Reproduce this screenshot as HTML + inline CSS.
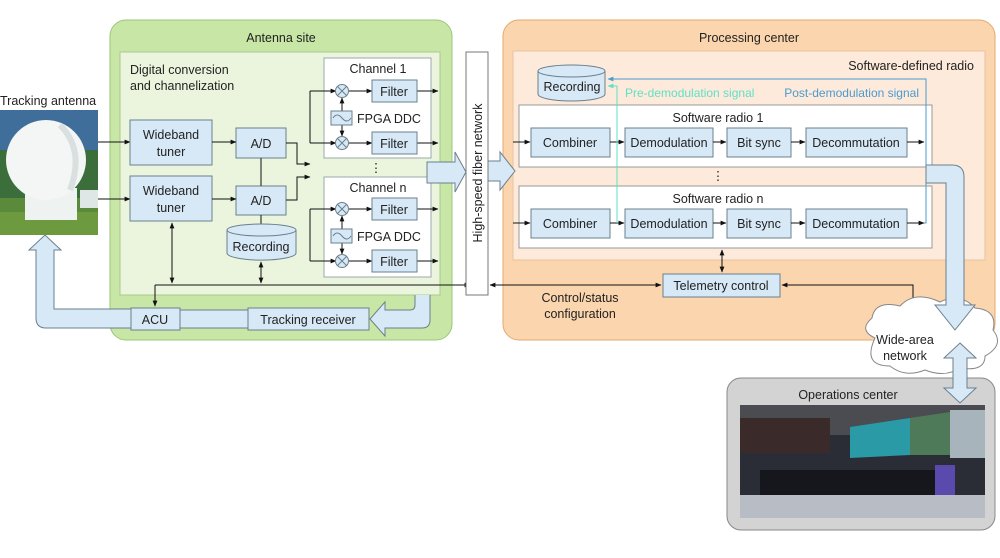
<!DOCTYPE html>
<html><head><meta charset="utf-8"><style>
body{margin:0;background:#fff}
svg text{font-family:"Liberation Sans",sans-serif;font-size:12.5px;fill:#222}
</style></head><body>
<svg width="1000" height="553" viewBox="0 0 1000 553" xmlns="http://www.w3.org/2000/svg">
<defs>
<marker id="a" viewBox="0 0 10 10" refX="9" refY="5" markerWidth="6" markerHeight="6" orient="auto-start-reverse"><path d="M0,1 L10,5 L0,9z" fill="#111"/></marker>
<marker id="ab" viewBox="0 0 10 10" refX="9" refY="5" markerWidth="6" markerHeight="6" orient="auto"><path d="M0,1 L10,5 L0,9z" fill="#4a9bd0"/></marker>
<marker id="ac" viewBox="0 0 10 10" refX="9" refY="5" markerWidth="6" markerHeight="6" orient="auto"><path d="M0,1 L10,5 L0,9z" fill="#5fe0c8"/></marker>
</defs>

<!-- Antenna site -->
<rect x="110" y="20" width="342" height="320" rx="16" fill="#c8e6a6" stroke="#9cc77b"/>
<text x="281" y="42" text-anchor="middle">Antenna site</text>
<rect x="120" y="52" width="320" height="243" fill="#ebf5de" stroke="#a9c98f"/>
<text x="130" y="74">Digital conversion</text>
<text x="130" y="90">and channelization</text>

<!-- tracking antenna image -->
<rect x="0" y="110" width="98" height="125" fill="#3f6e9a"/>
<rect x="0" y="150" width="98" height="50" fill="#3b6e3a"/>
<rect x="0" y="198" width="98" height="37" fill="#5a8a3a"/>
<rect x="0" y="212" width="98" height="23" fill="#6d9a3e"/>
<rect x="80" y="190" width="18" height="18" fill="#dfe6e6"/>
<rect x="25" y="188" width="52" height="32" fill="#eef2f0"/>
<circle cx="46" cy="160" r="40" fill="#f3f6f4"/>
<path d="M60,125 Q85,150 70,190" stroke="#c9d2d0" stroke-width="6" fill="none" opacity="0.6"/>
<text x="0" y="105" font-size="12.5">Tracking antenna</text>

<line x1="98" y1="142" x2="130" y2="142" stroke="#111" marker-end="url(#a)"/>
<line x1="98" y1="199" x2="130" y2="199" stroke="#111" marker-end="url(#a)"/>

<g fill="#d7e9f6" stroke="#6a7f8c">
<rect x="130" y="120" width="82" height="45"/>
<rect x="130" y="176" width="82" height="45"/>
<rect x="236" y="128" width="50" height="30"/>
<rect x="236" y="186" width="50" height="29"/>
</g>
<text x="171" y="139" text-anchor="middle">Wideband</text><text x="171" y="156" text-anchor="middle">tuner</text>
<text x="171" y="195" text-anchor="middle">Wideband</text><text x="171" y="212" text-anchor="middle">tuner</text>
<text x="261" y="148" text-anchor="middle">A/D</text>
<text x="261" y="205" text-anchor="middle">A/D</text>
<line x1="212" y1="142" x2="236" y2="142" stroke="#111" marker-end="url(#a)"/>
<line x1="212" y1="199" x2="236" y2="199" stroke="#111" marker-end="url(#a)"/>
<line x1="261" y1="158" x2="261" y2="186" stroke="#111"/>
<line x1="261" y1="215" x2="261" y2="232" stroke="#111" marker-end="url(#a)"/>
<path d="M227,230 L227,253 A34,7 0 0 0 296,253 L296,230" fill="#d7e9f6" stroke="#6a7f8c"/>
<ellipse cx="261.5" cy="230" rx="34.5" ry="6" fill="#d7e9f6" stroke="#6a7f8c"/>
<text x="261" y="251" text-anchor="middle">Recording</text>

<polyline points="286,143 297,143 297,164 310,164" fill="none" stroke="#111" marker-end="url(#a)"/>
<polyline points="286,200 297,200 297,177 310,177" fill="none" stroke="#111" marker-end="url(#a)"/>
<line x1="310" y1="91" x2="310" y2="143" stroke="#111"/>
<line x1="310" y1="209" x2="310" y2="261" stroke="#111"/>

<rect x="324" y="58" width="107" height="100" fill="#fff" stroke="#9aa"/>
<rect x="324" y="177" width="107" height="100" fill="#fff" stroke="#9aa"/>
<text x="378" y="73" text-anchor="middle">Channel 1</text>
<text x="378" y="192" text-anchor="middle">Channel n</text>
<text x="376" y="172" text-anchor="middle">⋮</text>
<g stroke="#111" fill="none">
<line x1="310" y1="91" x2="336" y2="91" marker-end="url(#a)"/>
<line x1="310" y1="143" x2="336" y2="143" marker-end="url(#a)"/>
<line x1="310" y1="209" x2="336" y2="209" marker-end="url(#a)"/>
<line x1="310" y1="261" x2="336" y2="261" marker-end="url(#a)"/>
<line x1="349" y1="91" x2="372" y2="91" marker-end="url(#a)"/>
<line x1="349" y1="143" x2="372" y2="143" marker-end="url(#a)"/>
<line x1="349" y1="209" x2="372" y2="209" marker-end="url(#a)"/>
<line x1="349" y1="261" x2="372" y2="261" marker-end="url(#a)"/>
<line x1="417" y1="91" x2="438" y2="91" marker-end="url(#a)"/>
<line x1="417" y1="143" x2="438" y2="143" marker-end="url(#a)"/>
<line x1="417" y1="209" x2="438" y2="209" marker-end="url(#a)"/>
<line x1="417" y1="261" x2="438" y2="261" marker-end="url(#a)"/>
<line x1="342" y1="111" x2="342" y2="98" marker-end="url(#a)"/>
<line x1="342" y1="125" x2="342" y2="136" marker-end="url(#a)"/>
<line x1="342" y1="229" x2="342" y2="216" marker-end="url(#a)"/>
<line x1="342" y1="243" x2="342" y2="254" marker-end="url(#a)"/>
</g>
<g fill="#d7e9f6" stroke="#6a7f8c">
<circle cx="342" cy="91" r="6.5"/><circle cx="342" cy="143" r="6.5"/><circle cx="342" cy="209" r="6.5"/><circle cx="342" cy="261" r="6.5"/>
<rect x="372" y="80" width="45" height="22"/><rect x="372" y="132" width="45" height="22"/>
<rect x="372" y="198" width="45" height="22"/><rect x="372" y="250" width="45" height="22"/>
<rect x="331" y="111" width="21" height="14"/><rect x="331" y="229" width="21" height="14"/>
</g>
<g stroke="#6a7f8c">
<path d="M337.5,86.5l9,9M346.5,86.5l-9,9M337.5,138.5l9,9M346.5,138.5l-9,9M337.5,204.5l9,9M346.5,204.5l-9,9M337.5,256.5l9,9M346.5,256.5l-9,9"/>
<path d="M333,118 q4,-6 9,0 t9,0 M333,236 q4,-6 9,0 t9,0" fill="none"/>
</g>
<text x="394" y="96" text-anchor="middle">Filter</text><text x="394" y="148" text-anchor="middle">Filter</text>
<text x="394" y="214" text-anchor="middle">Filter</text><text x="394" y="266" text-anchor="middle">Filter</text>
<text x="357" y="123">FPGA DDC</text><text x="357" y="241">FPGA DDC</text>

<line x1="155" y1="285" x2="470" y2="285" stroke="#111" marker-end="url(#a)"/>
<line x1="155" y1="285" x2="155" y2="306" stroke="#111" marker-end="url(#a)"/>
<line x1="172" y1="223" x2="172" y2="283" stroke="#111" marker-start="url(#a)" marker-end="url(#a)"/>
<line x1="261" y1="262" x2="261" y2="283" stroke="#111" marker-start="url(#a)" marker-end="url(#a)"/>

<path d="M131,309 L54,309 Q54,309 54,300 L54,250 L61,250 L45,235 L29,250 L36,250 L36,318 Q36,328 46,328 L131,328 Z" fill="#d7e9f6" stroke="#6a7f8c"/>
<rect x="180" y="310" width="68" height="18" fill="#d7e9f6"/>
<line x1="180" y1="310" x2="248" y2="310" stroke="#6a7f8c"/><line x1="180" y1="328" x2="248" y2="328" stroke="#6a7f8c"/>
<path d="M415,295 L415,305 Q415,310 410,310 L385,310 L385,302 L370,319 L385,336 L385,328 L422,328 Q430,328 430,320 L430,295" fill="#d7e9f6" stroke="#6a7f8c"/>
<rect x="131" y="308" width="49" height="22" fill="#d7e9f6" stroke="#6a7f8c"/>
<rect x="248" y="308" width="121" height="22" fill="#d7e9f6" stroke="#6a7f8c"/>
<text x="155" y="324" text-anchor="middle">ACU</text>
<text x="308" y="324" text-anchor="middle">Tracking receiver</text>

<!-- Processing center -->
<rect x="503" y="20" width="492" height="320" rx="16" fill="#fbd5ad" stroke="#e3a96e"/>
<text x="749" y="42" text-anchor="middle">Processing center</text>
<rect x="513" y="51" width="472" height="209" fill="#fdeada" stroke="#e8c3a0"/>
<text x="974" y="70" text-anchor="end">Software-defined radio</text>

<path d="M427,162 L455,162 L455,152 L466,172 L455,192 L455,183 L427,183Z" fill="#d7e9f6" stroke="#6a7f8c"/>
<path d="M488,161 L500,161 L500,152 L515,171 L500,190 L500,181 L488,181Z" fill="#d7e9f6" stroke="#6a7f8c"/>
<rect x="466" y="52" width="22" height="243" fill="#fff" stroke="#777"/>
<text transform="translate(482,173) rotate(-90)" text-anchor="middle">High-speed fiber network</text>

<path d="M538,71 L538,94 A33.5,7 0 0 0 605,94 L605,71" fill="#d7e9f6" stroke="#6a7f8c"/>
<ellipse cx="571.5" cy="71" rx="33.5" ry="6" fill="#d7e9f6" stroke="#6a7f8c"/>
<text x="572" y="91" text-anchor="middle">Recording</text>

<rect x="519" y="105" width="413" height="62" fill="#fff" stroke="#999"/>
<rect x="519" y="186" width="413" height="62" fill="#fff" stroke="#999"/>
<text x="718" y="122" text-anchor="middle">Software radio 1</text>
<text x="718" y="203" text-anchor="middle">Software radio n</text>
<text x="718" y="180" text-anchor="middle">⋮</text>
<g fill="#d7e9f6" stroke="#6a7f8c">
<rect x="531" y="128" width="79" height="29"/><rect x="625" y="128" width="88" height="29"/><rect x="727" y="128" width="64" height="29"/><rect x="806" y="128" width="101" height="29"/>
<rect x="531" y="209" width="79" height="29"/><rect x="625" y="209" width="88" height="29"/><rect x="727" y="209" width="64" height="29"/><rect x="806" y="209" width="101" height="29"/>
</g>
<g text-anchor="middle">
<text x="570" y="147">Combiner</text><text x="669" y="147">Demodulation</text><text x="759" y="147">Bit sync</text><text x="856" y="147">Decommutation</text>
<text x="570" y="228">Combiner</text><text x="669" y="228">Demodulation</text><text x="759" y="228">Bit sync</text><text x="856" y="228">Decommutation</text>
</g>
<g stroke="#111">
<line x1="513" y1="142" x2="530" y2="142" marker-end="url(#a)"/><line x1="610" y1="142" x2="624" y2="142" marker-end="url(#a)"/><line x1="713" y1="142" x2="726" y2="142" marker-end="url(#a)"/><line x1="791" y1="142" x2="805" y2="142" marker-end="url(#a)"/><line x1="907" y1="142" x2="924" y2="142" marker-end="url(#a)"/>
<line x1="513" y1="223" x2="530" y2="223" marker-end="url(#a)"/><line x1="610" y1="223" x2="624" y2="223" marker-end="url(#a)"/><line x1="713" y1="223" x2="726" y2="223" marker-end="url(#a)"/><line x1="791" y1="223" x2="805" y2="223" marker-end="url(#a)"/><line x1="907" y1="223" x2="924" y2="223" marker-end="url(#a)"/>
</g>
<polyline points="617,223 617,86 608,86" fill="none" stroke="#5fe0c8" marker-end="url(#ac)"/>
<polyline points="924,223 926,223 926,79 608,79" fill="none" stroke="#4a9bd0" marker-end="url(#ab)"/>
<text x="625" y="97" style="fill:#5fe0c8;font-size:12px">Pre-demodulation signal</text>
<text x="919" y="97" text-anchor="end" style="fill:#4a9bd0;font-size:12px">Post-demodulation signal</text>

<rect x="663" y="274" width="117" height="23" fill="#d7e9f6" stroke="#6a7f8c"/>
<text x="721" y="290" text-anchor="middle">Telemetry control</text>
<line x1="722" y1="250" x2="722" y2="272" stroke="#111" marker-start="url(#a)" marker-end="url(#a)"/>
<line x1="490" y1="285" x2="661" y2="285" stroke="#111" marker-start="url(#a)" marker-end="url(#a)"/>
<polyline points="782,285 913,285 913,322" fill="none" stroke="#111" marker-start="url(#a)" marker-end="url(#a)"/>
<text x="580" y="302" text-anchor="middle">Control/status</text>
<text x="580" y="318" text-anchor="middle">configuration</text>

<!-- Operations center -->
<rect x="727" y="378" width="268" height="152" rx="14" fill="#d3d3d3" stroke="#888"/>
<text x="848" y="399" text-anchor="middle">Operations center</text>
<rect x="740" y="405" width="245" height="113" fill="#2a2d35"/>
<rect x="740" y="405" width="245" height="30" fill="#4a4c52"/>
<rect x="740" y="418" width="90" height="35" fill="#3a2a2a"/>
<polygon points="850,427 910,418 910,455 850,458" fill="#2a9aa6"/>
<polygon points="910,418 950,412 950,455 910,455" fill="#4e7a5a"/>
<rect x="950" y="410" width="35" height="48" fill="#a8b4bc"/>
<rect x="740" y="495" width="245" height="23" fill="#b8bcc4"/>
<rect x="760" y="470" width="180" height="25" fill="#15171c"/>
<rect x="935" y="465" width="20" height="30" fill="#5a4aad"/>

<!-- cloud -->
<path d="M875,338 Q858,330 872,318 Q875,300 900,306 Q915,290 940,302 Q960,292 975,308 Q998,310 993,330 Q1005,345 985,356 Q985,372 960,368 Q945,378 925,370 Q905,378 890,366 Q862,366 875,338Z" fill="#fff" stroke="#888"/>
<text x="905" y="344" text-anchor="middle">Wide-area</text>
<text x="905" y="360" text-anchor="middle">network</text>

<path d="M926,165 L952,165 Q964,165 964,177 L964,305 L975,305 L955,330 L935,305 L946,305 L946,183 L926,183Z" fill="#d7e9f6" stroke="#6a7f8c"/>
<path d="M960,343 L976,358 L967,358 L967,388 L976,388 L960,403 L944,388 L953,388 L953,358 L944,358Z" fill="#d7e9f6" stroke="#6a7f8c"/>
</svg>
</body></html>
